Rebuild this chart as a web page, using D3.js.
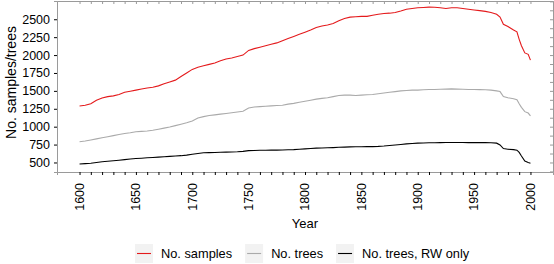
<!DOCTYPE html>
<html>
<head>
<meta charset="utf-8">
<script src="https://cdn.jsdelivr.net/npm/d3@7"></script>
<style>
  body { margin: 0; background: #fff; }
  text { font-family: "Liberation Sans", Arial, sans-serif; fill: #000; }
</style>
</head>
<body>
<div id="chart"></div>
<script>
// data
var years = [1600,1605,1610,1615,1620,1625,1630,1635,1640,1645,1650,1655,1660,1665,1670,1675,1680,1685,1690,1695,
  1700,1705,1710,1715,1720,1725,1730,1735,1740,1745,1750,1755,1760,1765,1770,1775,1780,1785,1790,1795,
  1800,1805,1810,1815,1820,1825,1830,1835,1840,1845,1850,1855,1860,1865,1870,1875,1880,1885,1890,1895,
  1900,1905,1910,1915,1920,1925,1930,1935,1940,1945,1950,1955,1960,1965,1970,1973,1976,1980,1985,1988,
  1990,1992,1995,1998,2000];

var samples = [1289,1300,1320,1370,1400,1420,1430,1450,1480,1495,1510,1525,1540,1550,1570,1600,1625,1650,1700,1750,
  1800,1830,1850,1870,1890,1920,1945,1960,1980,2000,2065,2090,2110,2130,2150,2170,2200,2230,2260,2290,
  2320,2350,2385,2405,2420,2440,2480,2510,2530,2535,2540,2540,2555,2570,2580,2585,2595,2615,2640,2650,
  2660,2665,2670,2668,2660,2650,2660,2660,2650,2640,2630,2620,2610,2595,2570,2530,2430,2400,2350,2325,
  2220,2130,2030,2010,1930];

var trees = [790,800,815,830,845,860,875,890,905,915,930,935,940,950,965,980,995,1015,1035,1055,
  1080,1120,1140,1155,1165,1175,1185,1195,1205,1215,1260,1275,1280,1285,1290,1295,1300,1315,1325,1340,
  1355,1370,1385,1395,1405,1420,1435,1440,1440,1435,1440,1445,1450,1460,1470,1480,1490,1500,1505,1510,
  1510,1515,1520,1520,1522,1525,1528,1525,1522,1520,1520,1518,1515,1510,1500,1490,1420,1405,1390,1375,
  1320,1270,1210,1190,1150];

var treesRW = [479,484,490,500,510,517,525,532,540,548,555,560,565,570,575,580,585,590,595,603,
  615,625,635,638,640,642,645,647,650,655,665,668,670,671,672,673,675,678,680,685,
  690,695,700,703,705,708,712,715,718,719,720,721,722,725,730,738,745,752,760,765,
  770,772,775,776,777,778,778,778,778,777,777,777,777,776,770,745,695,685,680,672,
  640,590,520,500,489];

var seriesNames = ["No. samples", "No. trees", "No. trees, RW only"];
var seriesColors = ["#e41a1c", "#aaaaaa", "#000000"];
var seriesValues = [samples, trees, treesRW];

var xTicks = [1600, 1650, 1700, 1750, 1800, 1850, 1900, 1950, 2000];
var yTicks = [500, 750, 1000, 1250, 1500, 1750, 2000, 2250, 2500];

// dimensions and margins
var margin = {top: 1, right: 1, bottom: 92, left: 57},
    width = 554 - margin.left - margin.right,
    height = 264 - margin.top - margin.bottom;

var svg = d3.select("#chart")
  .append("svg")
    .attr("width", 554)
    .attr("height", 264)
  .append("g")
    .attr("transform", "translate(" + margin.left + "," + margin.top + ")");

var x = d3.scaleLinear().domain([1580, 2020]).range([0, width]);
var y = d3.scaleLinear().domain([367, 2755]).range([height, 0]);

var axisColor = "#9a9a9a";

// bottom axis: minor ticks every 10 years, labels every 50
var bottomAxis = svg.append("g")
    .attr("transform", "translate(0," + height + ")")
    .call(d3.axisBottom(x).tickValues(d3.range(1600, 2001, 10)).tickSize(3).tickFormat(""));
bottomAxis.select(".domain").attr("stroke", axisColor);
bottomAxis.selectAll(".tick line").attr("stroke", "#000");

svg.selectAll(".xlab").data(xTicks).enter().append("text")
    .attr("class", "xlab")
    .attr("transform", function(d) { return "translate(" + x(d) + "," + (height + 11) + ") rotate(-90)"; })
    .attr("dy", "0.35em")
    .attr("text-anchor", "end")
    .attr("font-size", "12.5px")
    .text(function(d) { return d; });

// left axis
var leftAxis = svg.append("g")
    .call(d3.axisLeft(y).tickValues(yTicks).tickSize(3).tickPadding(4).tickFormat(d3.format("d")));
leftAxis.select(".domain").attr("stroke", axisColor);
leftAxis.selectAll(".tick line").attr("stroke", "#000");
leftAxis.selectAll(".tick text").attr("font-size", "12.5px");

// top and right borders with inward ticks
var topAxis = svg.append("g")
    .call(d3.axisTop(x).tickValues(d3.range(1600, 2001, 10)).tickSize(-3).tickFormat(""));
topAxis.select(".domain").attr("stroke", axisColor);
topAxis.selectAll(".tick line").attr("stroke", axisColor);

var rightAxis = svg.append("g")
    .attr("transform", "translate(" + width + ",0)")
    .call(d3.axisRight(y).tickValues(d3.range(375, 2751, 125)).tickSize(-3).tickFormat(""));
rightAxis.select(".domain").attr("stroke", axisColor);
rightAxis.selectAll(".tick line").attr("stroke", axisColor);

// axis titles
svg.append("text")
    .attr("x", width / 2)
    .attr("y", height + 56)
    .attr("text-anchor", "middle")
    .attr("font-size", "13px")
    .text("Year");

svg.append("text")
    .attr("transform", "rotate(-90)")
    .attr("x", -height / 2 + 4)
    .attr("y", -margin.left + 16)
    .attr("text-anchor", "middle")
    .attr("font-size", "14px")
    .text("No. samples/trees");

// lines
var line = d3.line()
    .x(function(d, i) { return x(years[i]); })
    .y(function(d) { return y(d); });

for (var i = 0; i < seriesValues.length; i++) {
  svg.append("path")
     .datum(seriesValues[i])
     .attr("fill", "none")
     .attr("stroke", seriesColors[i])
     .attr("stroke-width", 1.1)
     .attr("d", line);
}

// legend
var legend = d3.select("svg").append("g").attr("transform", "translate(135,244)");
var lx = 0;
seriesNames.forEach(function(name, i) {
  var item = legend.append("g").attr("transform", "translate(" + lx + ",0)");
  item.append("rect").attr("width", 18).attr("height", 19).attr("fill", "#f2f2f2");
  item.append("line").attr("x1", 2).attr("x2", 16).attr("y1", 9.5).attr("y2", 9.5)
      .attr("stroke", seriesColors[i]).attr("stroke-width", 1.1);
  var t = item.append("text").attr("x", 26).attr("y", 14).attr("font-size", "12.8px").text(name);
  lx += 26 + t.node().getComputedTextLength() + 13;
});
</script>
</body>
</html>
